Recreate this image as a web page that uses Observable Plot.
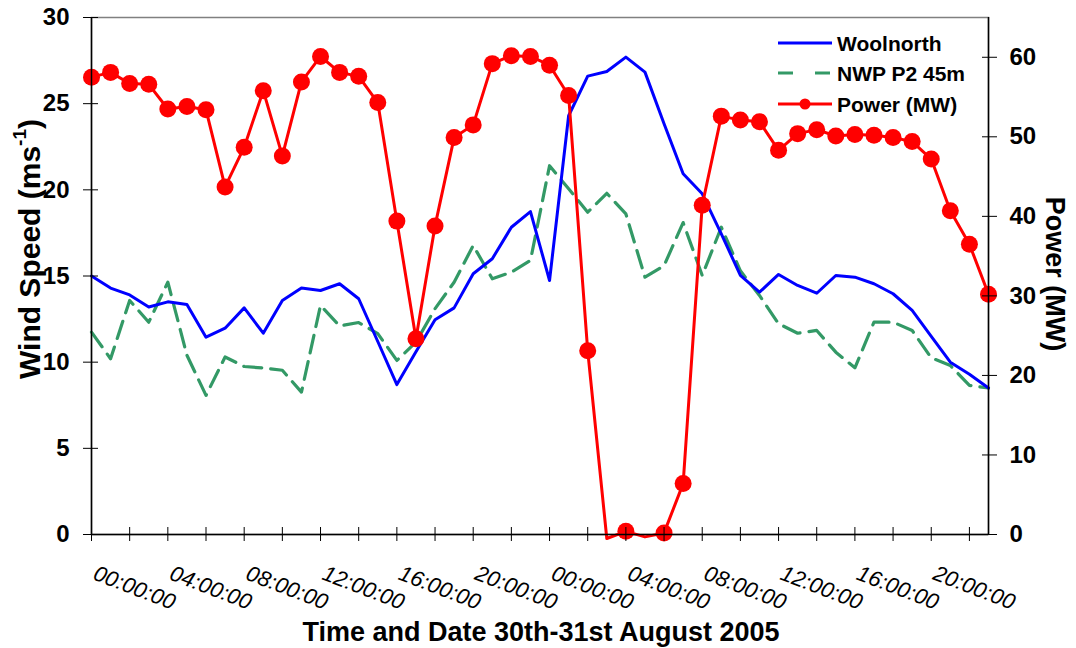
<!DOCTYPE html>
<html>
<head>
<meta charset="utf-8">
<script src="https://cdn.jsdelivr.net/npm/d3@7"></script>
<script src="https://cdn.jsdelivr.net/npm/@observablehq/plot@0.6"></script>
<style>
  html, body { margin: 0; padding: 0; background: #fff; }
  #chart { width: 1076px; height: 648px; }
</style>
</head>
<body>
<div id="chart"></div>
<script>
// ---- data (hourly, 30th 00:00 to 31st 23:00 August 2005) ----
const hours = [0,1,2,3,4,5,6,7,8,9,10,11,12,13,14,15,16,17,18,19,20,21,22,23,
               24,25,26,27,28,29,30,31,32,33,34,35,36,37,38,39,40,41,42,43,44,45,46,47];
const woolnorth = [15.0,14.3,13.9,13.2,13.5,13.35,11.45,11.97,13.15,11.68,13.58,14.3,
                   14.16,14.55,13.68,11.2,8.7,10.6,12.46,13.15,15.13,16.0,17.83,18.74,
                   14.74,24.3,26.6,26.87,27.7,26.83,23.83,20.93,19.77,17.45,15.03,14.06,
                   15.09,14.45,14.0,15.03,14.93,14.55,13.97,13.0,11.5,10.0,9.3,8.5];
const nwp = [11.74,10.2,13.58,12.32,14.64,10.4,8.07,10.3,9.75,9.66,9.53,8.26,
             13.29,12.1,12.3,11.66,10.1,11.16,13.1,14.64,16.77,14.84,15.22,15.9,
             21.4,20.06,18.7,19.8,18.6,14.93,15.6,18.1,15.03,17.83,15.3,13.87,
             12.23,11.68,11.84,10.58,9.67,12.32,12.32,11.84,10.25,9.81,8.65,8.5];
const power = [57.5,58.1,56.7,56.6,53.5,53.8,53.4,43.7,48.7,55.8,47.6,56.9,
               60.1,58.1,57.6,54.3,39.4,24.6,38.8,49.9,51.5,59.2,60.2,60.1,
               59.0,55.2,23.1,-0.5,0.4,-0.3,0.2,6.4,41.4,52.6,52.1,51.9,
               48.3,50.4,50.9,50.1,50.3,50.2,49.9,49.4,47.2,40.7,36.5,30.2];

const windTicks = [0,5,10,15,20,25,30];
const powerTicks = [0,10,20,30,40,50,60];
const xTickHours = [0,2,4,6,8,10,12,14,16,18,20,22,24,26,28,30,32,34,36,38,40,42,44,46];
const labelHours = [0,4,8,12,16,20,24,28,32,36,40,44];
const timeLabels = ["00:00:00","04:00:00","08:00:00","12:00:00","16:00:00","20:00:00",
                    "00:00:00","04:00:00","08:00:00","12:00:00","16:00:00","20:00:00"];
const windDomain = [0, 30];
const powerDomain = [0, 65];
const xDomain = [0, 47];

const seriesNames = ["Woolnorth", "NWP P2 45m", "Power (MW)"];
const colors = {woolnorth: "#0000ff", nwp: "#339966", power: "#ff0000"};

const k = windDomain[1] / powerDomain[1]; // power -> wind-axis units

const FONT = "'Liberation Sans', Arial, Helvetica, sans-serif";

const chart = Plot.plot({
  width: 1076,
  height: 648,
  marginLeft: 91,
  marginRight: 88,
  marginTop: 17,
  marginBottom: 114,
  x: {domain: xDomain},
  y: {domain: windDomain},
  style: {fontFamily: FONT, fontWeight: "bold", color: "#000", background: "#fff", overflow: "visible"},
  marks: [
    Plot.frame({stroke: "#808080", strokeWidth: 1.5}),
    Plot.line(hours, {x: d => d, y: (d, i) => nwp[i], stroke: colors.nwp, strokeWidth: 3.2,
                      strokeDasharray: "18,9", strokeLinejoin: "round"}),
    Plot.line(hours, {x: d => d, y: (d, i) => woolnorth[i], stroke: colors.woolnorth, strokeWidth: 3,
                      strokeLinejoin: "round"}),
    Plot.line(hours, {x: d => d, y: (d, i) => power[i] * k, stroke: colors.power, strokeWidth: 3,
                      strokeLinejoin: "round"}),
    Plot.dot(hours, {filter: (d, i) => power[i] >= 0, x: d => d, y: (d, i) => power[i] * k,
                     r: 8.5, fill: colors.power, stroke: "none"}),
    // axis lines
    Plot.ruleX([xDomain[0]], {stroke: "#000", strokeWidth: 1.5}),
    Plot.ruleX([xDomain[1]], {stroke: "#000", strokeWidth: 1.5}),
    Plot.ruleY([windDomain[0]], {stroke: "#000", strokeWidth: 1.5}),
    // left axis
    Plot.axisY(windTicks, {anchor: "left", tickSize: 15, dx: 7, tickFormat: () => "", label: null, stroke: "#000"}),
    Plot.axisY(windTicks, {anchor: "left", tickSize: 0, tickPadding: 22, fontSize: 24, fontWeight: "bold", label: null}),
    // right axis (power)
    Plot.axisY(powerTicks.map(p => p * k), {anchor: "right", tickSize: 15, dx: -7, tickFormat: () => "", label: null, stroke: "#000"}),
    Plot.axisY(powerTicks.map(p => p * k), {anchor: "right", tickSize: 0, tickPadding: 21, fontSize: 24,
               fontWeight: "bold", label: null, tickFormat: d => String(Math.round(d / k))}),
    // bottom axis
    Plot.axisX(xTickHours, {anchor: "bottom", tickSize: 14, dy: -7, tickFormat: () => "", label: null, stroke: "#000"}),
    Plot.text(labelHours, {x: d => d, text: (d, i) => timeLabels[i], frameAnchor: "bottom",
                           rotate: 21, textAnchor: "start", lineAnchor: "top", dx: 6, dy: 30,
                           fontSize: 22, fontStyle: "italic", fontWeight: "normal", fill: "#000"})
  ]
});

document.getElementById("chart").appendChild(chart);

// ---- axis titles and legend as real SVG text ----
const svg = d3.select(chart);
const titles = svg.append("g").attr("font-family", FONT).attr("font-weight", "bold").attr("fill", "#000");

const lt = titles.append("text")
  .attr("transform", "translate(29,249) rotate(-90)")
  .attr("text-anchor", "middle").attr("dy", "0.36em").attr("font-size", 30);
lt.append("tspan").text("Wind Speed (ms");
lt.append("tspan").attr("font-size", 19).attr("dy", "-0.75em").text("-1");
lt.append("tspan").attr("dy", "0.47em").text(")");

titles.append("text")
  .attr("transform", "translate(1056,274) rotate(90)")
  .attr("text-anchor", "middle").attr("dy", "0.36em").attr("font-size", 27)
  .text("Power (MW)");

titles.append("text")
  .attr("x", 541).attr("y", 641)
  .attr("text-anchor", "middle").attr("font-size", 27)
  .text("Time and Date 30th-31st August 2005");

// legend
const lg = svg.append("g").attr("font-family", FONT).attr("font-weight", "bold");
const rows = [43, 73, 104];
lg.append("line").attr("x1", 778).attr("x2", 832).attr("y1", rows[0]).attr("y2", rows[0])
  .attr("stroke", colors.woolnorth).attr("stroke-width", 3);
lg.append("line").attr("x1", 778).attr("x2", 832).attr("y1", rows[1]).attr("y2", rows[1])
  .attr("stroke", colors.nwp).attr("stroke-width", 3.2).attr("stroke-dasharray", "15,22");
lg.append("line").attr("x1", 778).attr("x2", 832).attr("y1", rows[2]).attr("y2", rows[2])
  .attr("stroke", colors.power).attr("stroke-width", 3);
lg.append("circle").attr("cx", 805).attr("cy", rows[2]).attr("r", 5.5).attr("fill", colors.power);
seriesNames.forEach((name, i) => {
  lg.append("text").attr("x", 837).attr("y", rows[i]).attr("dy", "0.36em")
    .attr("text-anchor", "start").attr("font-size", 21).attr("fill", "#000").text(name);
});
</script>
</body>
</html>
